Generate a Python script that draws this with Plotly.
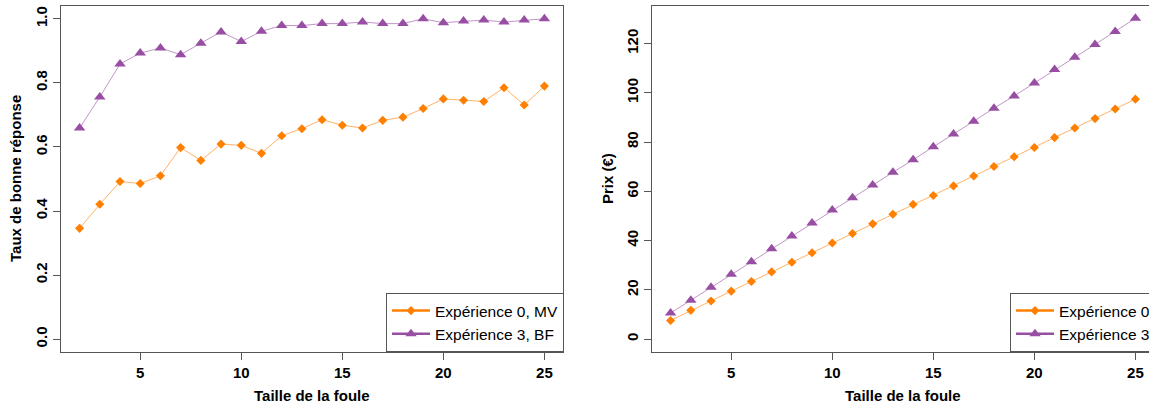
import plotly.graph_objects as go

# ---- data ----
taille = list(range(2, 26))

taux_exp0_mv = [0.346, 0.421, 0.492, 0.486, 0.510, 0.598, 0.558, 0.609, 0.605, 0.580,
                0.635, 0.657, 0.685, 0.668, 0.659, 0.683, 0.693, 0.720, 0.750, 0.746,
                0.742, 0.785, 0.731, 0.790]
taux_exp3_bf = [0.659, 0.756, 0.859, 0.893, 0.909, 0.888, 0.924, 0.959, 0.929, 0.961,
                0.979, 0.979, 0.985, 0.985, 0.990, 0.985, 0.985, 1.000, 0.988, 0.993,
                0.996, 0.990, 0.996, 1.000]

prix_exp0 = [7.6, 11.7, 15.5, 19.5, 23.4, 27.3, 31.2, 35.1, 39.0, 42.9, 46.8, 50.7,
             54.7, 58.3, 62.2, 66.2, 70.1, 74.0, 77.8, 81.8, 85.7, 89.5, 93.4, 97.4]
prix_exp3 = [10.6, 15.8, 21.1, 26.3, 31.4, 36.7, 41.9, 47.1, 52.4, 57.4, 62.6, 67.7,
             72.8, 78.1, 83.3, 88.4, 93.7, 98.7, 104.0, 109.4, 114.4, 119.6, 124.9, 130.2]

x_ticks = [5, 10, 15, 20, 25]
taux_ticks = [0.0, 0.2, 0.4, 0.6, 0.8, 1.0]
taux_labels = ["0.0", "0.2", "0.4", "0.6", "0.8", "1.0"]
prix_ticks = [0, 20, 40, 60, 80, 100, 120]

names_left = ["Expérience 0, MV", "Expérience 3, BF"]
names_right = ["Expérience 0", "Expérience 3"]

ORANGE = "#FF7F00"
PURPLE = "#984EA3"
ORANGE_L = "rgba(255,127,0,0.6)"
PURPLE_L = "rgba(152,78,163,0.6)"
FONT = "Liberation Sans, Arial, Helvetica, sans-serif"
AX = "#555555"

W, H = 1149, 407

fig = go.Figure()

def add_series(x, y, col, col_l, sym, size, xa, ya):
    fig.add_trace(go.Scatter(x=x, y=y, mode="lines+markers", xaxis=xa, yaxis=ya,
                             line=dict(color=col_l, width=1),
                             marker=dict(color=col, symbol=sym, size=size, line=dict(width=0)),
                             showlegend=False, hoverinfo="x+y"))

def add_legend(name, col, sym, size, leg):
    fig.add_trace(go.Scatter(x=[None], y=[None], mode="lines+markers", name=name,
                             line=dict(color=col, width=2.5),
                             marker=dict(color=col, symbol=sym, size=size, line=dict(width=0)),
                             legend=leg, showlegend=True))

add_series(taille, taux_exp0_mv, ORANGE, ORANGE_L, "diamond", 7, "x", "y")
add_series(taille, taux_exp3_bf, PURPLE, PURPLE_L, "triangle-up", 10, "x", "y")
add_series(taille, prix_exp0, ORANGE, ORANGE_L, "diamond", 7, "x2", "y2")
add_series(taille, prix_exp3, PURPLE, PURPLE_L, "triangle-up", 10, "x2", "y2")

add_legend(names_left[0], ORANGE, "diamond", 7, "legend")
add_legend(names_left[1], PURPLE, "triangle-up", 10, "legend")
add_legend(names_right[0], ORANGE, "diamond", 7, "legend2")
add_legend(names_right[1], PURPLE, "triangle-up", 10, "legend2")

px_per_unit = 502 / 24.84
x1_l, x1_r = 61, 563
x2_l = 652
y_top, y_bot = 6, 352

tickfont = dict(family=FONT, size=15, color="black", weight="bold")

common_x = dict(showgrid=False, zeroline=False, showline=True, linecolor=AX, linewidth=1,
                ticks="outside", ticklen=7, tickcolor=AX, tickwidth=1,
                tickvals=x_ticks, tickfont=tickfont)
common_y = dict(showgrid=False, zeroline=False, showline=True, linecolor=AX, linewidth=1,
                ticks="outside", ticklen=7, tickcolor=AX, tickwidth=1,
                tickangle=-90, tickfont=tickfont)

ydom = [1 - y_bot / H, 1 - y_top / H]

legend_common = dict(bgcolor="white", bordercolor=AX, borderwidth=1, itemwidth=38,
                     font=dict(family=FONT, size=15.5, color="black"), tracegroupgap=0,
                     yanchor="bottom", y=1 - y_bot / H)

fig.update_layout(
    width=W, height=H,
    margin=dict(l=0, r=0, t=0, b=0, autoexpand=False),
    plot_bgcolor="white", paper_bgcolor="white",
    font=dict(family=FONT, color="black"),
    xaxis=dict(domain=[x1_l / W, x1_r / W], range=[1.08, 25.92], mirror=True,
               anchor="y", **common_x),
    yaxis=dict(domain=ydom, range=[-0.04, 1.04], mirror=True, anchor="x",
               tickvals=taux_ticks, ticktext=taux_labels, **common_y),
    xaxis2=dict(domain=[x2_l / W, 1.0], range=[1.08, 1.08 + (W - x2_l) / px_per_unit],
                mirror=True, anchor="y2", **common_x),
    yaxis2=dict(domain=ydom, range=[-5.2, 135.2], mirror=False, anchor="x2",
                tickvals=prix_ticks, **common_y),
    legend=dict(x=564 / W, xanchor="right", **legend_common),
    legend2=dict(x=1010 / W, xanchor="left", **legend_common),
)

title_font = dict(family=FONT, size=15, color="black", weight="bold")
fig.add_annotation(text="Taille de la foule", xref="paper", yref="paper",
                   x=(x1_l + x1_r) / 2 / W, y=1 - 395 / H, showarrow=False,
                   xanchor="center", yanchor="middle", font=title_font)
fig.add_annotation(text="Taille de la foule", xref="paper", yref="paper",
                   x=(x2_l + x2_l + 502) / 2 / W, y=1 - 395 / H, showarrow=False,
                   xanchor="center", yanchor="middle", font=title_font)
fig.add_annotation(text="Taux de bonne réponse", xref="paper", yref="paper",
                   x=15 / W, y=1 - 179 / H, showarrow=False, textangle=-90,
                   xanchor="center", yanchor="middle", font=title_font)
fig.add_annotation(text="Prix (€)", xref="paper", yref="paper",
                   x=607 / W, y=1 - 179 / H, showarrow=False, textangle=-90,
                   xanchor="center", yanchor="middle", font=title_font)

fig.write_html("out.html", config={"displayModeBar": False},
               post_script="document.body.style.margin='0';document.body.style.padding='0';"
                           "document.documentElement.style.overflow='hidden';")
